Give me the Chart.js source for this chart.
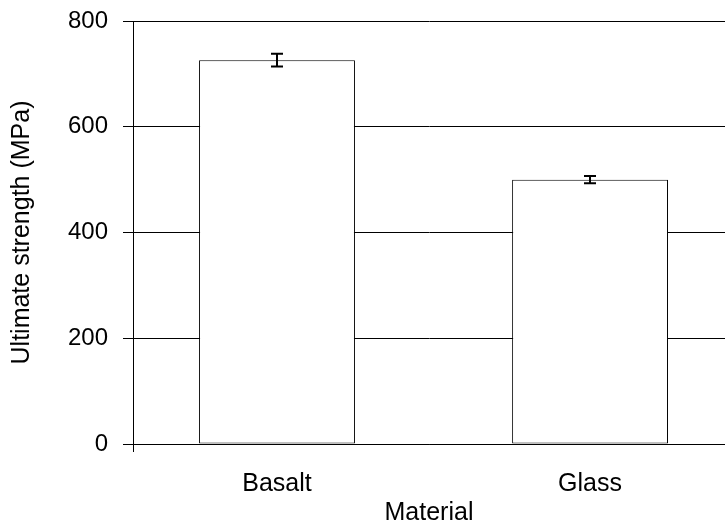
<!DOCTYPE html>
<html>
<head>
<meta charset="utf-8">
<script src="https://cdn.jsdelivr.net/npm/chart.js@4/dist/chart.umd.min.js"></script>
<style>
  html, body { margin: 0; padding: 0; background: #fff; }
  #wrap { width: 725px; height: 523px; }
</style>
</head>
<body>
<div id="wrap"><canvas id="strengthChart" width="725" height="523"></canvas></div>
<script>
// Data
const materials = ['Basalt', 'Glass'];
const strengthMean = [726, 500];
const strengthErr = [12, 7];
const yTicks = [0, 200, 400, 600, 800];

const FONT = "'Liberation Sans', Arial, sans-serif";

// bars sit at x = 0, 1 on a linear axis so the plot can run off the right edge like the original
const barPoints = strengthMean.map(function(v, i) { return { x: i, y: v }; });

// draws the +/- error bars and the little tick below the y axis
const errorBars = {
    id: 'errorBars',
    afterDatasetsDraw(chart) {
        const ctx = chart.ctx;
        const meta = chart.getDatasetMeta(0);
        const y = chart.scales.y;
        ctx.save();
        ctx.strokeStyle = '#000';
        ctx.lineWidth = 2;
        meta.data.forEach(function(bar, i) {
            const x = Math.round(bar.x);
            const top = y.getPixelForValue(strengthMean[i] + strengthErr[i]);
            const bot = y.getPixelForValue(strengthMean[i] - strengthErr[i]);
            ctx.beginPath();
            ctx.moveTo(x, top); ctx.lineTo(x, bot);
            ctx.moveTo(x - 6, top); ctx.lineTo(x + 6, top);
            ctx.moveTo(x - 6, bot); ctx.lineTo(x + 6, bot);
            ctx.stroke();
        });
        // axis continues a bit below zero
        const left = chart.chartArea.left + 0.5;
        ctx.lineWidth = 1;
        ctx.beginPath();
        ctx.moveTo(left, chart.chartArea.bottom);
        ctx.lineTo(left, chart.chartArea.bottom + 8);
        ctx.stroke();
        ctx.restore();
    }
};

new Chart(document.getElementById('strengthChart'), {
    type: 'bar',
    data: {
        datasets: [{
            data: barPoints,
            backgroundColor: '#fff',
            borderColor: '#000',
            borderWidth: 1,
            borderSkipped: false,
            barPercentage: 1,
            categoryPercentage: 0.498
        }]
    },
    options: {
        responsive: false,
        animation: false,
        layout: { padding: { top: 21, right: 0, left: 0, bottom: 0 } },
        plugins: {
            legend: { display: false },
            tooltip: { enabled: false }
        },
        scales: {
            x: {
                type: 'linear',
                offset: false,
                min: -0.46,
                max: 1.431,
                afterBuildTicks(scale) {
                    scale.ticks = materials.map(function(m, i) { return { value: i }; });
                },
                grid: { display: false, offset: false },
                border: { color: '#000' },
                ticks: {
                    color: '#000',
                    padding: 17,
                    font: { family: FONT, size: 25 },
                    callback: function(v) { return materials[v]; }
                },
                title: {
                    display: true,
                    text: 'Material',
                    color: '#000',
                    padding: { top: 0, bottom: -5 },
                    font: { family: FONT, size: 25 }
                },
                afterFit(scale) {
                    scale.height = 79;
                    scale.paddingLeft = 0;
                    scale.paddingRight = 0;
                }
            },
            y: {
                min: 0,
                max: 800,
                afterBuildTicks(scale) {
                    scale.ticks = yTicks.map(function(v) { return { value: v }; });
                },
                grid: { color: '#000', tickLength: 10 },
                border: { color: '#000' },
                ticks: { color: '#000', padding: 15, font: { family: FONT, size: 24 } },
                title: {
                    display: true,
                    text: 'Ultimate strength (MPa)',
                    color: '#000',
                    padding: { top: 7, bottom: 0 },
                    font: { family: FONT, size: 25 }
                },
                afterFit(scale) {
                    scale.width = 133;
                    scale.paddingTop = 0;
                    scale.paddingBottom = 0;
                }
            }
        }
    },
    plugins: [errorBars]
});
</script>
</body>
</html>
